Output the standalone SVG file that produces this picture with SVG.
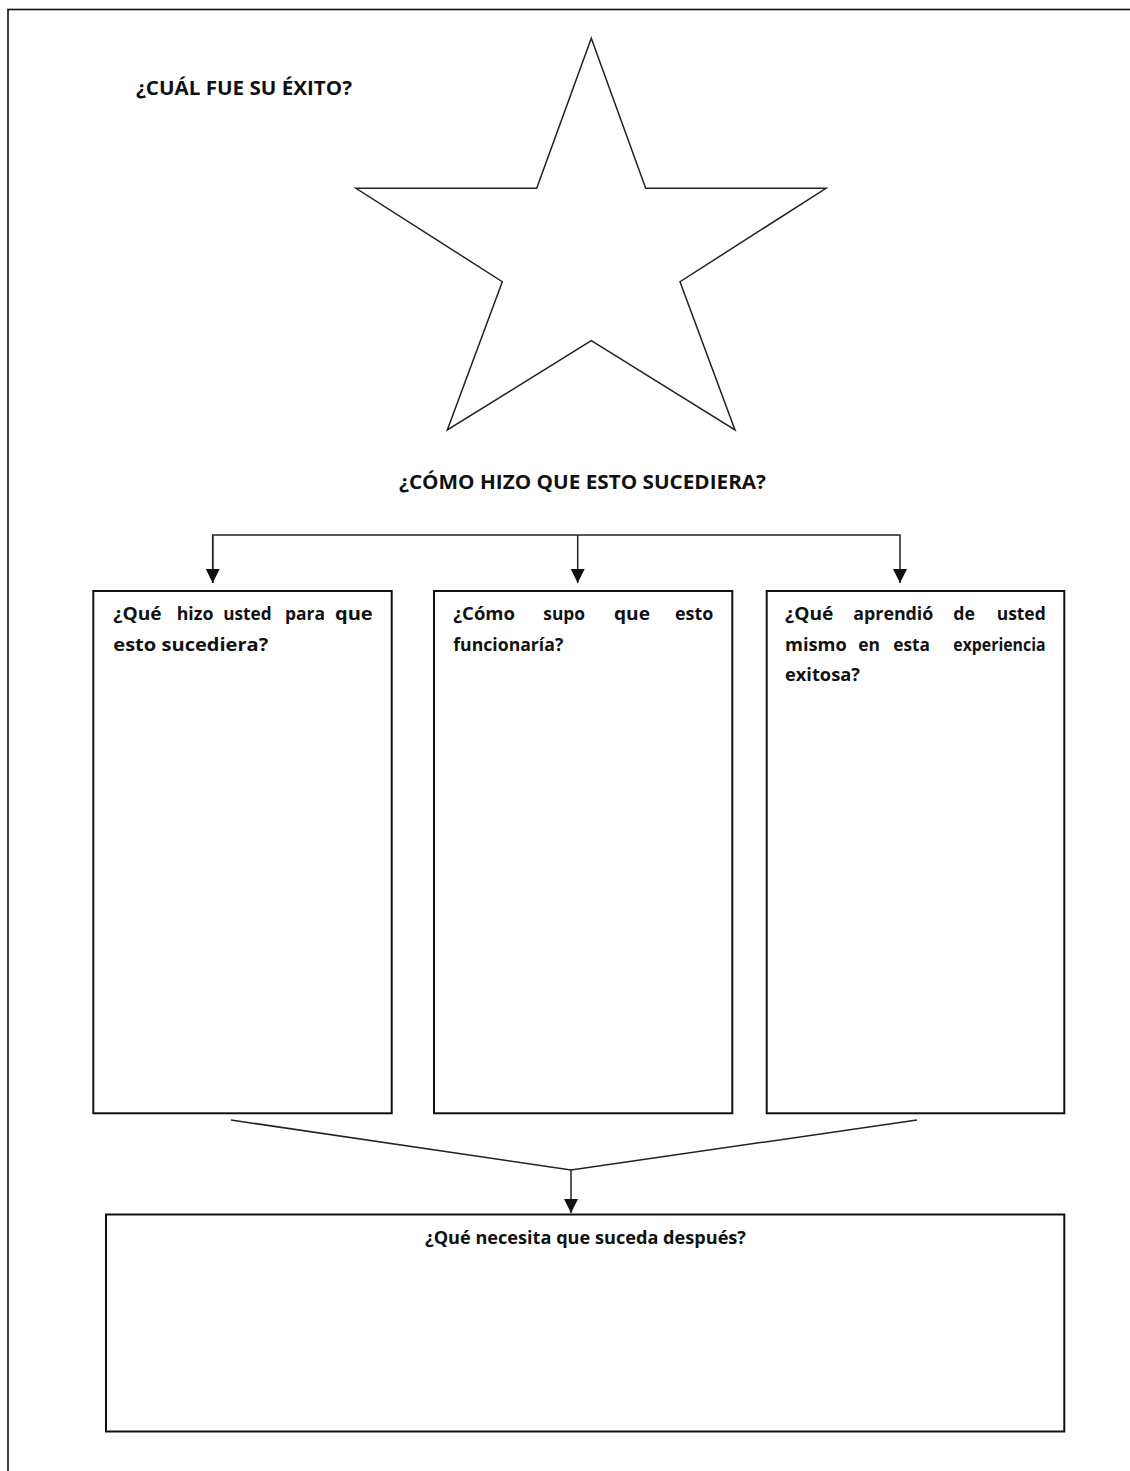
<svg xmlns="http://www.w3.org/2000/svg" width="1130" height="1471" viewBox="0 0 1130 1471">
<style>
.t{font-family:"Open Sans",Lato,"Liberation Sans",sans-serif;font-weight:bold;fill:#111}
.h{font-size:19px}
.b{font-size:17.5px}
.box{fill:#fff;stroke:#111;stroke-width:2}
.con{fill:none;stroke:#222;stroke-width:1.5}
</style>
<defs>
<marker id="arr" markerUnits="userSpaceOnUse" markerWidth="14" markerHeight="14" refX="14" refY="7" orient="auto">
<path d="M0,0 L14,7 L0,14 z" fill="#111"/>
</marker>
</defs>
<rect x="0" y="0" width="1130" height="1471" fill="#fff"/>
<rect id="page" x="8" y="9.5" width="1140" height="1480" fill="none" stroke="#111" stroke-width="1.6"/>

<g id="title">
<text class="t h" x="136" y="95" textLength="216" lengthAdjust="spacingAndGlyphs">¿CUÁL FUE SU ÉXITO?</text>
</g>
<g id="star">
<polygon points="591.3,38.3 645.7,188.3 826,188.3 680,281.7 735,430 591.3,340.7 447.3,430 502.3,281.7 356,188.3 536.7,188.3" fill="#fff" stroke="#222" stroke-width="1.5" stroke-linejoin="miter"/>
</g>
<g id="subtitle">
<text class="t h" x="399" y="489" textLength="367" lengthAdjust="spacingAndGlyphs">¿CÓMO HIZO QUE ESTO SUCEDIERA?</text>
</g>

<g id="connectors">
<path class="con" d="M212.7,583 V535 H900 V583" marker-end="url(#arr)"/>
<path class="con" d="M212.7,535 V583" marker-end="url(#arr)"/>
<path class="con" d="M577.7,535 V583" marker-end="url(#arr)"/>
<path class="con" d="M231,1120 L571,1170 L917,1120"/>
<path class="con" d="M571,1170 V1213" marker-end="url(#arr)"/>
</g>

<g id="box1">
<rect class="box" x="93.3" y="591" width="298.4" height="522.3"/>
<text class="t b" x="113.3" y="620" textLength="48.3" lengthAdjust="spacingAndGlyphs">¿Qué</text>
<text class="t b" x="176.7" y="620" textLength="36.7" lengthAdjust="spacingAndGlyphs">hizo</text>
<text class="t b" x="223.3" y="620" textLength="48.3" lengthAdjust="spacingAndGlyphs">usted</text>
<text class="t b" x="285" y="620" textLength="40" lengthAdjust="spacingAndGlyphs">para</text>
<text class="t b" x="335" y="620" textLength="37.7" lengthAdjust="spacingAndGlyphs">que</text>
<text class="t b" x="113.3" y="650.5" textLength="155" lengthAdjust="spacingAndGlyphs">esto sucediera?</text>
</g>

<g id="box2">
<rect class="box" x="434" y="591" width="298.3" height="522.3"/>
<text class="t b" x="453.3" y="620" textLength="61.7" lengthAdjust="spacingAndGlyphs">¿Cómo</text>
<text class="t b" x="543.3" y="620" textLength="41.7" lengthAdjust="spacingAndGlyphs">supo</text>
<text class="t b" x="614" y="620" textLength="36" lengthAdjust="spacingAndGlyphs">que</text>
<text class="t b" x="675" y="620" textLength="38.3" lengthAdjust="spacingAndGlyphs">esto</text>
<text class="t b" x="453.3" y="650.5" textLength="110" lengthAdjust="spacingAndGlyphs">funcionaría?</text>
</g>

<g id="box3">
<rect class="box" x="766.7" y="591" width="297.6" height="522.3"/>
<text class="t b" x="785" y="620" textLength="48.3" lengthAdjust="spacingAndGlyphs">¿Qué</text>
<text class="t b" x="853.3" y="620" textLength="80" lengthAdjust="spacingAndGlyphs">aprendió</text>
<text class="t b" x="953.3" y="620" textLength="21.7" lengthAdjust="spacingAndGlyphs">de</text>
<text class="t b" x="996.7" y="620" textLength="49" lengthAdjust="spacingAndGlyphs">usted</text>
<text class="t b" x="785" y="650.5" textLength="61.7" lengthAdjust="spacingAndGlyphs">mismo</text>
<text class="t b" x="858.3" y="650.5" textLength="21.7" lengthAdjust="spacingAndGlyphs">en</text>
<text class="t b" x="893.3" y="650.5" textLength="36.7" lengthAdjust="spacingAndGlyphs">esta</text>
<text class="t b" x="953.3" y="650.5" textLength="92.3" lengthAdjust="spacingAndGlyphs">experiencia</text>
<text class="t b" x="785" y="681" textLength="75" lengthAdjust="spacingAndGlyphs">exitosa?</text>
</g>

<g id="box4">
<rect class="box" x="106" y="1214.5" width="958.3" height="217"/>
<text class="t b" x="425" y="1244" textLength="321" lengthAdjust="spacingAndGlyphs">¿Qué necesita que suceda después?</text>
</g>
</svg>
